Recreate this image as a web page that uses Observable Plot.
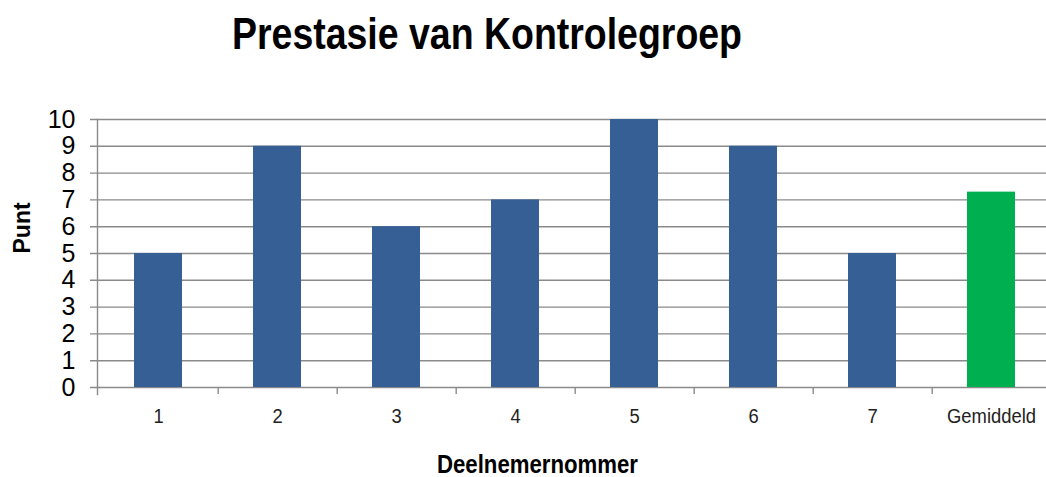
<!DOCTYPE html>
<html>
<head>
<meta charset="utf-8">
<script src="https://cdn.jsdelivr.net/npm/d3@7"></script>
<script src="https://cdn.jsdelivr.net/npm/@observablehq/plot@0.6"></script>
<style>
  html, body { margin: 0; padding: 0; background: #fff; overflow: hidden; }
  #wrap { width: 1046px; overflow: hidden; position: relative; font-family: "Liberation Sans", Arial, sans-serif; }
  #titlebox { height: 80px; position: relative; }
  #title { position: absolute; left: 487px; top: 9px; white-space: nowrap; font-weight: bold; font-size: 44px; line-height: 50px; color: #000; transform-origin: 0 0; }
  #chart svg { display: block; max-width: none !important; }
</style>
</head>
<body>
<div id="wrap">
  <div id="titlebox"><span id="title">Prestasie van Kontrolegroep</span></div>
  <div id="chart"></div>
</div>
<script>
const categories = ["1", "2", "3", "4", "5", "6", "7", "Gemiddeld"];
const scores = [5, 9, 6, 7, 10, 9, 5, 7.29];
const barColors = ["#365F96", "#365F96", "#365F96", "#365F96", "#365F96", "#365F96", "#365F96", "#00B050"];
const yTicks = [0, 1, 2, 3, 4, 5, 6, 7, 8, 9, 10];
const xTitle = "Deelnemernommer";
const yTitle = "Punt";

const data = categories.map((c, i) => ({cat: c, value: scores[i], color: barColors[i]}));

const W = 1046, ML = 97, MR = -6;
const step = (W - ML - MR) / categories.length;
const gray = "#8a8a8a";

const chart = Plot.plot({
  width: W,
  height: 397,
  marginTop: 39,
  marginBottom: 90,
  marginLeft: ML,
  marginRight: MR,
  style: {fontFamily: '"Liberation Sans", Arial, sans-serif', color: "#000", background: "#fff", maxWidth: "none"},
  x: {domain: categories, paddingInner: 0.6, paddingOuter: 0.3, label: null, axis: null},
  y: {domain: [0, 10], label: null, axis: null},
  marks: [
    Plot.ruleY(yTicks, {y: d => d, stroke: gray, strokeWidth: 1.4, insetLeft: -7}),
    Plot.barY(data, {x: "cat", y: "value", fill: "color"}),
    Plot.frame({anchor: "left", stroke: gray, strokeWidth: 1.4, insetBottom: -7}),
    Plot.axisX({tickSize: 7, text: null, stroke: gray, strokeWidth: 1.4, dx: step / 2}),
    Plot.axisY(yTicks, {tickSize: 0, tickPadding: 22, fontSize: 25, label: null, tickFormat: d => String(d)}),
    Plot.axisX({tickSize: 0, tickPadding: 21, fontSize: 20, label: null, fill: "#222", className: "xlab"}),
    Plot.text([xTitle], {frameAnchor: "bottom", text: d => d, dy: 85, dx: 537 - (ML + W - MR) / 2, lineAnchor: "bottom", fontSize: 25, fontWeight: "bold", className: "xtitle"}),
    Plot.text([yTitle], {frameAnchor: "left", text: d => d, dx: -75, rotate: -90, fontSize: 23, fontWeight: "bold"})
  ]
});
document.getElementById("chart").appendChild(chart);

function condense(el, factor) {
  const len = el.getComputedTextLength();
  el.setAttribute("textLength", (len * factor).toFixed(1));
  el.setAttribute("lengthAdjust", "spacingAndGlyphs");
}
chart.querySelectorAll(".xlab text").forEach(t => condense(t, 0.92));
chart.querySelectorAll(".xtitle text").forEach(t => condense(t, 201 / t.getComputedTextLength()));

const title = document.getElementById("title");
const tw = title.getBoundingClientRect().width;
const s = 510 / tw;
title.style.transform = `translateX(${-255}px) scaleX(${s})`;
</script>
</body>
</html>
